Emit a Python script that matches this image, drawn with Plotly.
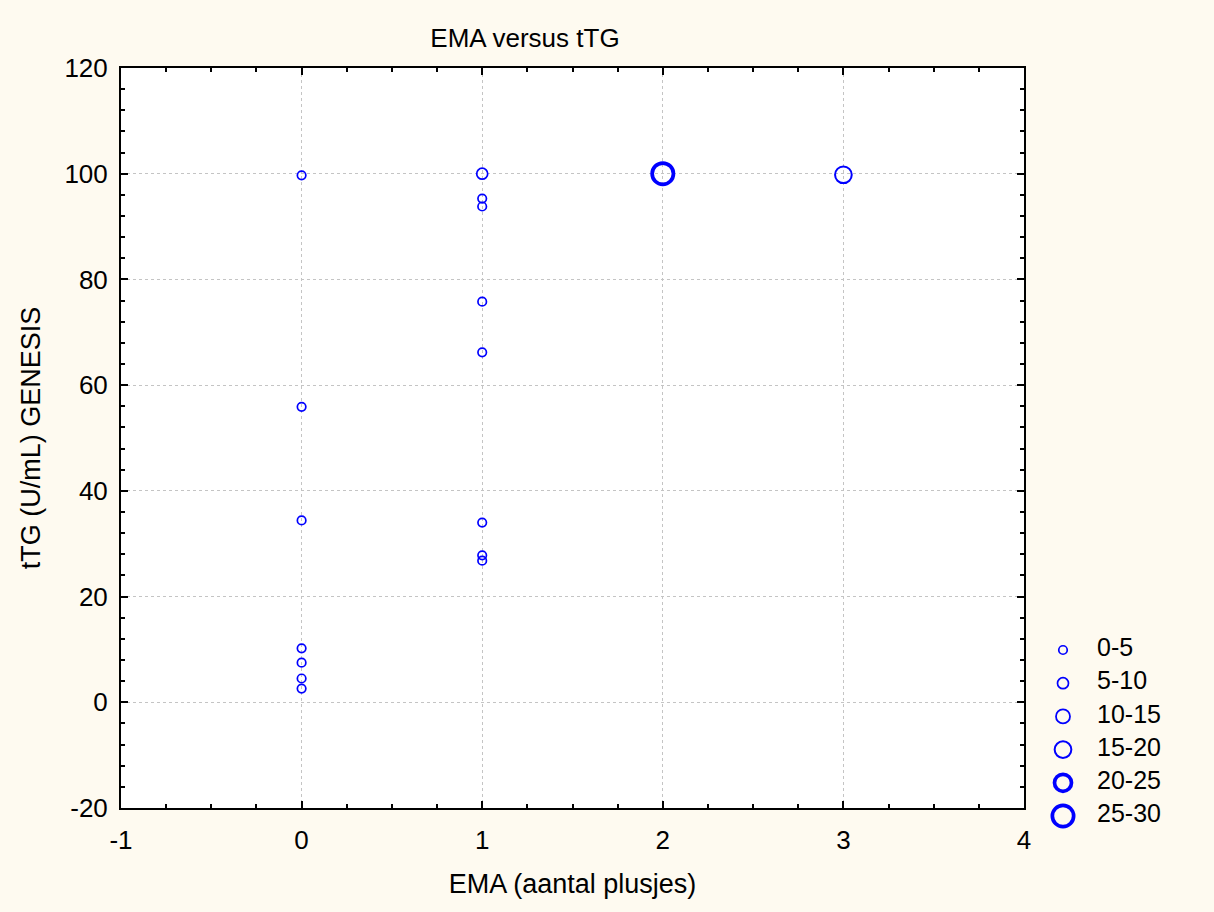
import plotly.graph_objects as go

# ---- data ----
ema = [0, 0, 0, 0, 0, 0, 0, 1, 1, 1, 1, 1, 1, 1, 1, 2, 3]
ttg = [99.7, 55.9, 34.4, 10.2, 7.5, 4.5, 2.6,
       100.0, 95.3, 93.8, 75.8, 66.2, 34.0, 27.8, 26.8,
       100.0, 99.8]
size_group = ["0-5", "0-5", "0-5", "0-5", "0-5", "0-5", "0-5",
              "5-10", "0-5", "0-5", "0-5", "0-5", "0-5", "0-5", "0-5",
              "25-30", "15-20"]
categories = ["0-5", "5-10", "10-15", "15-20", "20-25", "25-30"]
cutoff = 7
x_ticks = [-1, 0, 1, 2, 3, 4]
y_ticks = [-20, 0, 20, 40, 60, 80, 100, 120]
x_ticklabels = [str(v) for v in x_ticks]
y_ticklabels = [str(v) for v in y_ticks]

# styles per category (marker diameter, stroke width)
cat_size = [8.5, 11, 14, 16.7, 17, 21.3]
cat_lw = [1.7, 1.7, 1.8, 2.0, 3.7, 3.7]

BLUE = "#0000FF"
BG = "#FEFAF0"
FONT = "Liberation Sans, Arial, sans-serif"
FS_TICK = 26
FS_TITLE = 26
FS_AXT = 27
FS_LEG = 25

fig = go.Figure()

for i, c in enumerate(categories):
    xs = [e for e, g in zip(ema, size_group) if g == c]
    ys = [t for t, g in zip(ttg, size_group) if g == c]
    if xs:
        fig.add_trace(go.Scatter(
            x=xs, y=ys, mode="markers", showlegend=False,
            marker=dict(symbol="circle-open", size=cat_size[i], color=BLUE,
                        line=dict(width=cat_lw[i], color=BLUE)),
            xaxis="x", yaxis="y"))

# manual legend on secondary axes
for i, c in enumerate(categories):
    fig.add_trace(go.Scatter(
        x=[0], y=[i], mode="markers", showlegend=False, hoverinfo="skip",
        marker=dict(symbol="circle-open", size=cat_size[i], color=BLUE,
                    line=dict(width=cat_lw[i], color=BLUE)),
        xaxis="x2", yaxis="y2"))
fig.add_trace(go.Scatter(
    x=[1] * len(categories), y=list(range(len(categories))), mode="text",
    text=categories, textposition="middle right", showlegend=False,
    hoverinfo="skip", textfont=dict(family=FONT, size=FS_LEG, color="black"),
    xaxis="x2", yaxis="y2"))

fig.add_hline(y=cutoff, line=dict(color=BLUE, width=2), xref="x", yref="y")

W, H = 1214, 912
L, R, T, B = 121, 14, 68, 50
pw = W - L - R
ph = H - T - B
x_right = 1024
y_bottom = 808

axis_common = dict(
    showline=True, linecolor="black", linewidth=2, mirror="allticks",
    ticks="inside", ticklen=7, tickwidth=2, tickcolor="black",
    showgrid=True, gridcolor="#c4c4c4", griddash="dot", gridwidth=1,
    zeroline=False, automargin=False,
    tickfont=dict(family=FONT, size=FS_TICK, color="black"),
)

# legend axes mapping
lx0 = 1030
px_per = 34.0
x2r0 = -(1063 - lx0) / px_per
x2r1 = x2r0 + (W - R - lx0) / px_per
row0, rowstep = 650, 33.2
y2_bottom = (H - B - row0) / rowstep
y2_top = (T - row0) / rowstep

fig.update_layout(
    width=W, height=H, autosize=False,
    margin=dict(l=L, r=R, t=T, b=B, autoexpand=False),
    paper_bgcolor=BG,
    plot_bgcolor="rgba(0,0,0,0)",
    font=dict(family=FONT, size=FS_TICK, color="black"),
    title=dict(text="EMA versus tTG", x=525 / W, xref="container",
               xanchor="center", y=1 - 38 / H, yref="container",
               yanchor="middle", font=dict(family=FONT, size=FS_TITLE, color="black")),
    xaxis=dict(**axis_common, domain=[0, (x_right - L) / pw],
               range=[-1, 4], tickmode="array", tickvals=x_ticks,
               ticktext=x_ticklabels,
               minor=dict(dtick=0.25, tick0=0, ticks="inside", ticklen=4,
                          tickwidth=2, tickcolor="black", showgrid=False),
               ticklabelstandoff=8,
               title=dict(text="EMA (aantal plusjes)", standoff=20,
                          font=dict(family=FONT, size=FS_AXT, color="black"))),
    yaxis=dict(**axis_common, domain=[(H - B - y_bottom) / ph, 1],
               range=[-20, 120], tickmode="array", tickvals=y_ticks,
               ticktext=y_ticklabels,
               minor=dict(dtick=4, tick0=0, ticks="inside", ticklen=4,
                          tickwidth=2, tickcolor="black", showgrid=False),
               ticklabelstandoff=6,
               title=dict(text="tTG (U/mL) GENESIS", standoff=16,
                          font=dict(family=FONT, size=FS_AXT, color="black"))),
    xaxis2=dict(domain=[(lx0 - L) / pw, 1], range=[x2r0, x2r1], visible=False,
                anchor="y2", fixedrange=True, automargin=False),
    yaxis2=dict(domain=[0, 1], range=[y2_bottom, y2_top], visible=False,
                anchor="x2", fixedrange=True, automargin=False),
    shapes=[dict(type="rect", xref="x domain", yref="y domain",
                 x0=0, x1=1, y0=0, y1=1, fillcolor="white",
                 line=dict(width=0), layer="below")],
)

fig.write_html(
    "out.html",
    config={"displayModeBar": False},
    post_script="document.body.style.margin='0';"
                "document.body.style.background='" + BG + "';",
)
